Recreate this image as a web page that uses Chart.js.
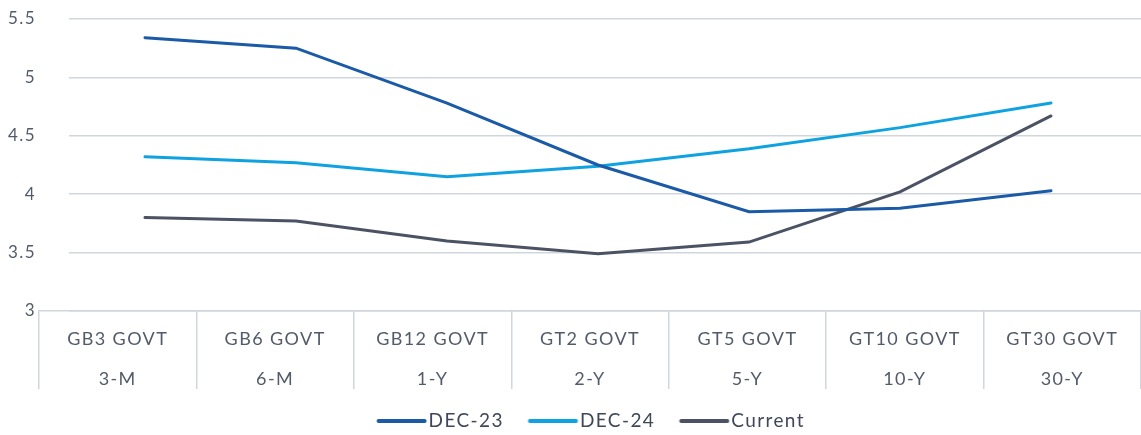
<!DOCTYPE html>
<html>
<head>
<meta charset="utf-8">
<script src="https://cdn.jsdelivr.net/npm/chart.js@4"></script>
<style>
  html, body { margin: 0; padding: 0; background: #ffffff; }
  canvas { display: block; }
</style>
</head>
<body>
<canvas id="c" width="1141" height="435"></canvas>
<script>
const tickers = ['GB3 GOVT', 'GB6 GOVT', 'GB12 GOVT', 'GT2 GOVT', 'GT5 GOVT', 'GT10 GOVT', 'GT30 GOVT'];
const tenors = ['3-M', '6-M', '1-Y', '2-Y', '5-Y', '10-Y', '30-Y'];
const dec23 = [5.34, 5.25, 4.78, 4.25, 3.85, 3.88, 4.03];
const dec24 = [4.32, 4.27, 4.15, 4.24, 4.39, 4.57, 4.78];
const current = [3.80, 3.77, 3.60, 3.49, 3.59, 4.02, 4.67];
const yTicks = [3, 3.5, 4, 4.5, 5, 5.5];

const categories = tickers.map((t, i) => [t, tenors[i]]);
const toPoints = arr => arr.map((v, i) => ({ x: i, y: v }));

const textColor = '#535b6a';
const gridColor = '#d0d6de';
const fontFamily = 'Lato, "Open Sans", sans-serif';

function legendLine(color) {
  const c = document.createElement('canvas');
  c.width = 100; c.height = 8;
  const g = c.getContext('2d');
  g.strokeStyle = color;
  g.lineWidth = 4;
  g.lineCap = 'round';
  g.beginPath();
  g.moveTo(31.5, 4);
  g.lineTo(77.5, 4);
  g.stroke();
  return c;
}

const ds = (label, values, color) => ({
  label,
  data: toPoints(values),
  borderColor: color,
  backgroundColor: color,
  borderWidth: 3,
  pointRadius: 0,
  pointHoverRadius: 0,
  tension: 0,
  xAxisID: 'xl',
  yAxisID: 'y',
  borderCapStyle: 'round',
  pointStyle: legendLine(color)
});

const spacingPlugin = {
  id: 'spacing',
  beforeUpdate(chart) { chart.ctx.letterSpacing = '1.4px'; },
  beforeDraw(chart) { chart.ctx.letterSpacing = '1.4px'; }
};

// horizontal gridlines start a little inside the plot, as in the reference
const insetGrid = c => {
  const chart = c.chart;
  const g = chart.ctx.createLinearGradient(0, 0, chart.width, 0);
  const p = 69 / chart.width;
  g.addColorStop(0, 'rgba(208,214,222,0)');
  g.addColorStop(p, 'rgba(208,214,222,0)');
  g.addColorStop(p, gridColor);
  g.addColorStop(1, gridColor);
  return g;
};

new Chart(document.getElementById('c'), {
  type: 'line',
  plugins: [spacingPlugin],
  data: {
    labels: categories,
    datasets: [
      ds('DEC-23', dec23, '#1b5aa7'),
      ds('DEC-24', dec24, '#0ea2e0'),
      ds('Current', current, '#4b5263')
    ]
  },
  options: {
    responsive: false,
    animation: false,
    layout: { padding: { top: 19, right: 0, bottom: -5.5, left: 0 } },
    plugins: {
      tooltip: { enabled: false },
      legend: {
        position: 'bottom',
        fullSize: false,
        labels: {
          usePointStyle: true,
          pointStyleWidth: 44,
          boxHeight: 8,
          padding: 22.5,
          color: '#3f4758',
          font: { family: fontFamily, size: 19 },
          generateLabels: chart => chart.data.datasets.map((d, i) => ({
            text: d.label,
            strokeStyle: d.borderColor,
            fillStyle: d.borderColor,
            lineWidth: 0,
            pointStyle: d.pointStyle,
            fontColor: '#3f4758',
            datasetIndex: i,
            hidden: false
          }))
        }
      }
    },
    scales: {
      x: {
        type: 'category',
        position: 'bottom',
        offset: true,
        grid: {
          offset: true,
          drawOnChartArea: false,
          drawTicks: true,
          tickLength: 78,
          tickColor: gridColor,
          color: gridColor,
          lineWidth: 1.5
        },
        border: { display: true, color: gridColor, width: 1.5 },
        ticks: {
          color: textColor,
          padding: -70,
          maxRotation: 0,
          autoSkip: false,
          font: { family: fontFamily, size: 18, lineHeight: 2.222 }
        },
        afterFit: s => { s.height = 78; }
      },
      xl: {
        type: 'linear',
        display: false,
        min: -0.702,
        max: 6.596
      },
      y: {
        type: 'linear',
        min: 3,
        max: 5.5,
        afterBuildTicks: s => { s.ticks = yTicks.map(v => ({ value: v })); },
        grid: { color: insetGrid, lineWidth: 1.5, drawTicks: false },
        border: { display: false },
        ticks: {
          color: textColor,
          padding: 3,
          font: { family: fontFamily, size: 17 },
          callback: v => String(v)
        },
        afterFit: s => { s.width = 39; }
      }
    }
  }
});
</script>
</body>
</html>
